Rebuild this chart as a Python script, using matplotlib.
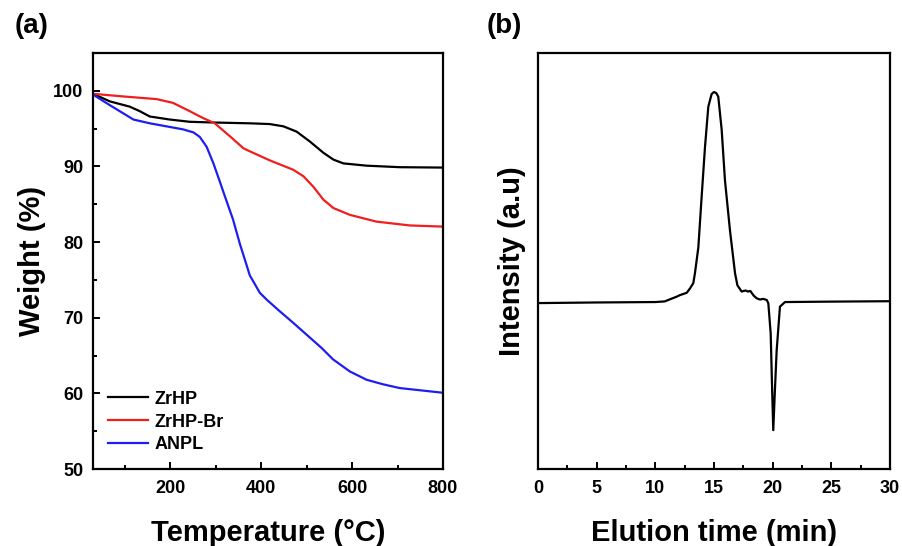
import matplotlib
matplotlib.use("Agg")
import matplotlib.pyplot as plt
from matplotlib.ticker import MultipleLocator, NullLocator

plt.rcParams['font.family'] = ['Liberation Sans', 'DejaVu Sans']
plt.rcParams['font.weight'] = 'bold'

# TGA data (temperature in C, weight in %)
t_zrhp = [30, 67, 111, 133, 155, 199, 243, 300, 375, 419, 449, 478, 507, 537, 559, 581, 632, 705, 797]
w_zrhp = [99.6, 98.6, 97.9, 97.3, 96.6, 96.2, 95.9, 95.8, 95.7, 95.6, 95.3, 94.6, 93.3, 91.8, 90.9, 90.4, 90.1, 89.9, 89.85]

t_br = [30, 97, 170, 206, 243, 272, 298, 331, 361, 375, 419, 471, 493, 515, 537, 559, 595, 654, 727, 797]
w_br = [99.6, 99.25, 98.9, 98.4, 97.3, 96.4, 95.7, 94.0, 92.4, 92.0, 90.8, 89.55, 88.7, 87.3, 85.6, 84.5, 83.6, 82.7, 82.2, 82.05]

t_anpl = [30, 67, 119, 155, 228, 251, 265, 280, 295, 309, 317, 338, 353, 375, 397, 412, 440, 471, 533, 558,
          595, 632, 668, 705, 797]
w_anpl = [99.5, 98.1, 96.2, 95.7, 94.9, 94.5, 93.9, 92.6, 90.4, 88.0, 86.6, 83.0, 79.8, 75.6, 73.3, 72.4, 70.9, 69.3, 66.0, 64.5,
          62.9, 61.8, 61.2, 60.7, 60.1]

# GPC trace (elution time in min, intensity in a.u.)
t_gpc = [0, 5, 10, 10.8, 11.25, 11.8, 12.1, 12.68, 12.96, 13.24, 13.38, 13.67, 13.95, 14.24, 14.52, 14.8, 15.0, 15.2,
         15.37, 15.66, 15.94, 16.37, 16.8, 17.0, 17.36, 17.7, 17.9, 18.1, 18.4, 18.64, 18.92, 19.2, 19.5, 19.64,
         19.84, 19.95, 20.06, 20.2, 20.35, 20.63, 21.06, 25, 30]
i_gpc = [-0.005, -0.002, 0.0, 0.003, 0.013, 0.025, 0.033, 0.044, 0.065, 0.09, 0.137, 0.26, 0.50, 0.74, 0.93, 0.99, 1.0, 0.995,
         0.978, 0.82, 0.58, 0.34, 0.137, 0.08, 0.05, 0.055, 0.05, 0.053, 0.03, 0.018, 0.012, 0.015, 0.01, -0.006,
         -0.15, -0.39, -0.61, -0.42, -0.23, -0.022, 0.0, 0.002, 0.004]

fig = plt.figure(figsize=(9.02, 5.46), dpi=100)
ax1 = fig.add_axes([0.1031, 0.141, 0.388, 0.762])
ax2 = fig.add_axes([0.5965, 0.141, 0.390, 0.762])

for ax in (ax1, ax2):
    for s in ax.spines.values():
        s.set_linewidth(1.6)
    ax.tick_params(which='both', direction='in', width=1.4, labelsize=13)
    ax.tick_params(axis='x', pad=8)
    ax.tick_params(axis='y', pad=7)
    ax.tick_params(which='major', length=5)
    ax.tick_params(which='minor', length=3)

ax1.plot(t_zrhp, w_zrhp, color='black', lw=1.6, label='ZrHP')
ax1.plot(t_br, w_br, color='#f01e1e', lw=1.6, label='ZrHP-Br')
ax1.plot(t_anpl, w_anpl, color='#1e1ef0', lw=1.6, label='ANPL')
ax1.set_xlim(30, 800)
ax1.set_ylim(50, 105)
ax1.xaxis.set_major_locator(MultipleLocator(200))
ax1.xaxis.set_minor_locator(MultipleLocator(100))
ax1.yaxis.set_major_locator(MultipleLocator(10))
ax1.yaxis.set_minor_locator(MultipleLocator(5))
ax1.set_xlabel('Temperature (°C)', fontsize=21, fontweight='bold', labelpad=16)
ax1.set_ylabel('Weight (%)', fontsize=21, fontweight='bold', labelpad=5)
ax1.legend(loc='center left', frameon=False, fontsize=13, handlelength=2.2, handletextpad=0.4,
           borderpad=0, borderaxespad=0, labelspacing=0.33,
           bbox_to_anchor=(0.043, 0.113))
fig.text(0.016, 1 - 13 / 546, '(a)', fontsize=20, fontweight='bold', va='top')

ax2.plot(t_gpc, i_gpc, color='black', lw=1.6)
ax2.set_xlim(0, 30)
ax2.set_ylim(-0.795, 1.186)
ax2.xaxis.set_major_locator(MultipleLocator(5))
ax2.xaxis.set_minor_locator(MultipleLocator(2.5))
ax2.yaxis.set_major_locator(NullLocator())
ax2.set_xlabel('Elution time (min)', fontsize=21, fontweight='bold', labelpad=16)
ax2.set_ylabel('Intensity (a.u)', fontsize=21, fontweight='bold', labelpad=9)
fig.text(0.539, 1 - 13 / 546, '(b)', fontsize=20, fontweight='bold', va='top')

fig.savefig('out.png', dpi=100)
